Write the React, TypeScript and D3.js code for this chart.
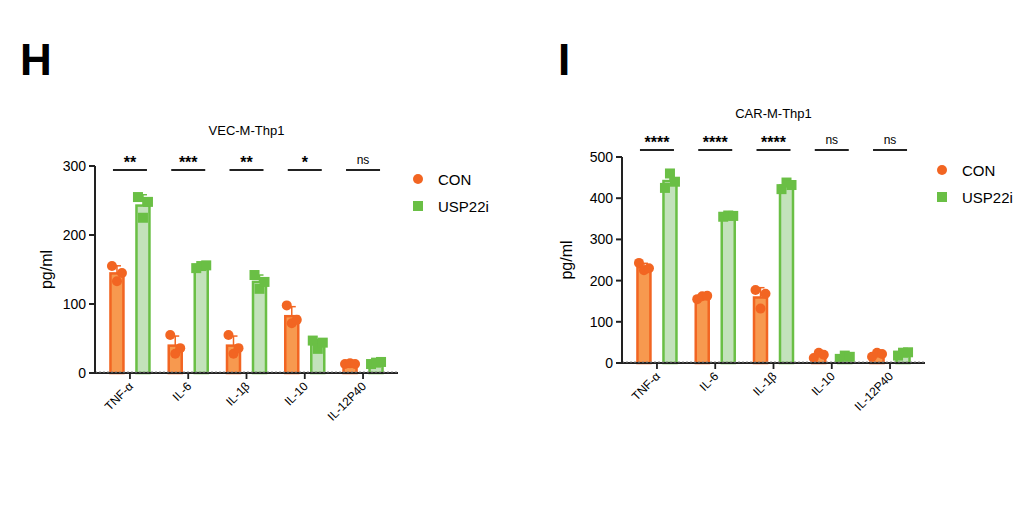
import React from "react";
import * as d3 from "d3";

const categories = ["TNF-α", "IL-6", "IL-1β", "IL-10", "IL-12P40"];
const vecCon = [[155, 133, 145], [55, 28, 36], [55, 28, 36], [98, 72, 77], [13, 14, 13]];
const vecUsp = [[255, 225, 248], [152, 155, 156], [142, 122, 132], [47, 35, 44], [13, 15, 16]];
const vecSig = ["**", "***", "**", "*", "ns"];
const carCon = [[243, 225, 230], [155, 162, 163], [177, 132, 168], [12, 25, 20], [15, 25, 22]];
const carUsp = [[425, 460, 440], [355, 358, 357], [422, 438, 432], [10, 18, 15], [18, 25, 26]];
const carSig = ["****", "****", "****", "ns", "ns"];
const vecTicks = [0, 100, 200, 300];
const carTicks = [0, 100, 200, 300, 400, 500];

const ORANGE = "#f26522", ORANGE_FILL = "#f7994f", GREEN = "#6abf45", GREEN_FILL = "#c3e2bb";
const font = "Arial, 'Liberation Sans', sans-serif";

type PanelProps = {
  letter: string; title: string; con: number[][]; usp: number[][]; sig: string[];
  ticks: number[]; x0: number; x1: number; y0: number; y1: number; letterX: number;
  titleY: number; sigY: number; legendX: number; legendY: number; labelX: number;
};

const Panel = (p: PanelProps) => {
  const y = d3.scaleLinear().domain([0, p.ticks[p.ticks.length - 1]]).range([p.y0, p.y1]);
  const x = d3.scaleBand().domain(categories).range([p.x0, p.x1]).paddingInner(0).paddingOuter(0.1);
  const bw = 13;
  const mean = (a: number[]) => d3.mean(a) as number;
  const sd = (a: number[]) => d3.deviation(a) as number;
  const center = (i: number) => (x(categories[i]) as number) + x.bandwidth() / 2;
  const bar = (vals: number[], cx: number, stroke: string, fill: string, sq: boolean, k: string) => {
    const m = mean(vals), s = sd(vals);
    return (
      <g key={k}>
        <line x1={cx} x2={cx} y1={y(m)} y2={y(m + s)} stroke={stroke} strokeWidth={1.5} />
        <line x1={cx - 4} x2={cx + 4} y1={y(m + s)} y2={y(m + s)} stroke={stroke} strokeWidth={1.5} />
        <rect x={cx - bw / 2} y={y(m)} width={bw} height={p.y0 - y(m)} fill={fill} stroke={stroke} strokeWidth={2.5} />
        {vals.map((v, j) => {
          const dx = (j - 1) * 5;
          return sq ? (
            <rect key={j} x={cx + dx - 5} y={y(v) - 5} width={10} height={10} fill={stroke} />
          ) : (
            <circle key={j} cx={cx + dx} cy={y(v)} r={5} fill={stroke} />
          );
        })}
      </g>
    );
  };
  const titleX = (p.x0 + p.x1) / 2;
  return (
    <g fontFamily={font}>
      <text x={p.letterX} y={75} fontSize={44} fontWeight="bold">{p.letter}</text>
      <text x={titleX} y={p.titleY} fontSize={13} textAnchor="middle">{p.title}</text>
      {categories.map((c, i) => {
        const cx = center(i);
        return (
          <g key={c}>
            {bar(p.con[i], cx - 13, ORANGE, ORANGE_FILL, false, "c")}
            {bar(p.usp[i], cx + 13, GREEN, GREEN_FILL, true, "u")}
            <line x1={cx - 17} x2={cx + 17} y1={p.sigY} y2={p.sigY} stroke="#222" strokeWidth={1.8} />
            <text x={cx} y={p.sigY - (p.sig[i] === "ns" ? 6 : 2)} fontSize={p.sig[i] === "ns" ? 12 : 16} fontWeight={p.sig[i] === "ns" ? "normal" : "bold"} textAnchor="middle">{p.sig[i]}</text>
            <line x1={cx} x2={cx} y1={p.y0} y2={p.y0 + 6} stroke="#222" strokeWidth={1.8} />
            <text transform={`translate(${cx + 4},${p.y0 + 14}) rotate(-45)`} fontSize={12} textAnchor="end">{c}</text>
          </g>
        );
      })}
      <line x1={p.x0} x2={p.x1} y1={p.y0} y2={p.y0} stroke="#222" strokeWidth={2} />
      <line x1={p.x0} x2={p.x1} y1={p.y0 - 1} y2={p.y0 - 1} stroke="#888" strokeWidth={1} strokeDasharray="2,2" />
      <line x1={p.x0} x2={p.x0} y1={p.y0} y2={p.y1} stroke="#222" strokeWidth={2} />
      {p.ticks.map((t) => (
        <g key={t}>
          <line x1={p.x0 - 6} x2={p.x0} y1={y(t)} y2={y(t)} stroke="#222" strokeWidth={2} />
          <text x={p.x0 - 9} y={y(t) + 5} fontSize={14} textAnchor="end">{t}</text>
        </g>
      ))}
      <text transform={`translate(${p.labelX},${(p.y0 + p.y1) / 2}) rotate(-90)`} fontSize={16} textAnchor="middle">pg/ml</text>
      <circle cx={p.legendX} cy={p.legendY} r={5} fill={ORANGE} />
      <text x={p.legendX + 20} y={p.legendY + 6} fontSize={15}>CON</text>
      <rect x={p.legendX - 5} y={p.legendY + 22} width={10} height={10} fill={GREEN} />
      <text x={p.legendX + 20} y={p.legendY + 33} fontSize={15}>USP22i</text>
    </g>
  );
};

export default function App() {
  return (
    <svg width={1034} height={512} style={{ display: "block", margin: -8 }}>
      <rect width={1034} height={512} fill="#fff" />
      <Panel letter="H" title="VEC-M-Thp1" con={vecCon} usp={vecUsp} sig={vecSig} ticks={vecTicks}
        x0={95} x1={398} y0={373} y1={166} letterX={20} titleY={135} sigY={170}
        legendX={418} legendY={179} labelX={52} />
      <Panel letter="I" title="CAR-M-Thp1" con={carCon} usp={carUsp} sig={carSig} ticks={carTicks}
        x0={622} x1={925} y0={363} y1={157} letterX={558} titleY={118} sigY={150}
        legendX={942} legendY={170} labelX={572} />
    </svg>
  );
}
